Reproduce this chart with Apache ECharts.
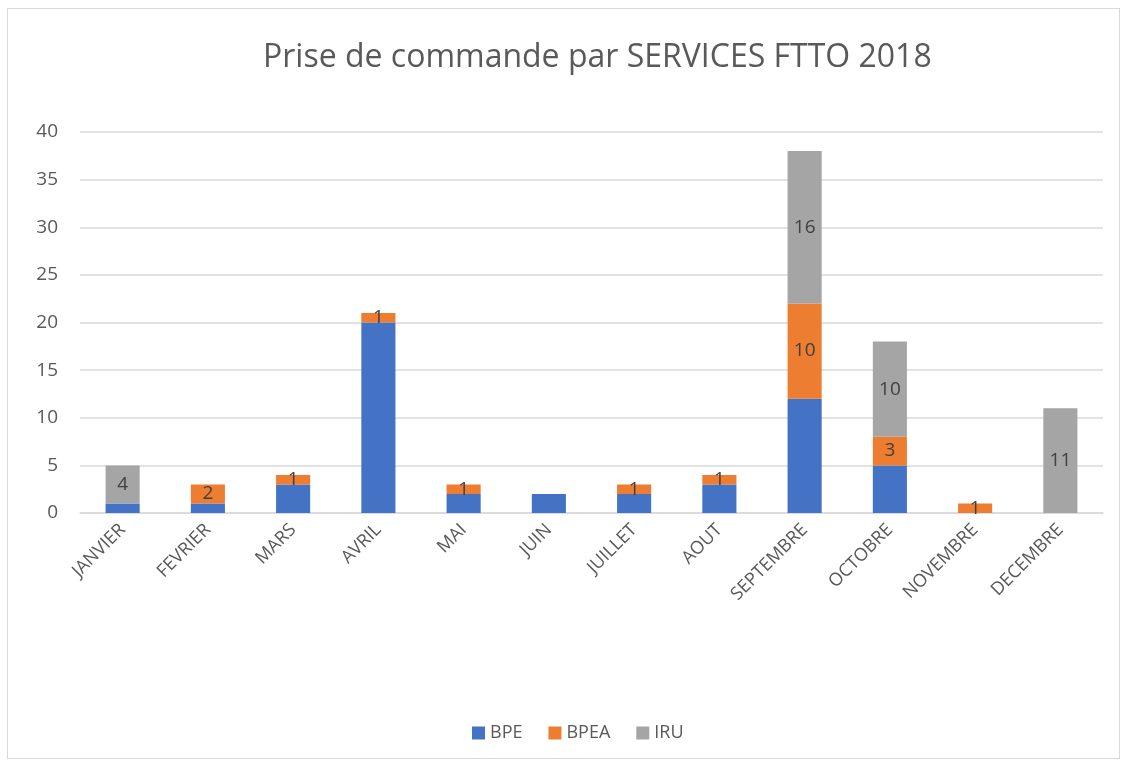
<!DOCTYPE html>
<html>
<head>
<meta charset="utf-8">
<script src="https://cdn.jsdelivr.net/npm/echarts@6/dist/echarts.min.js"></script>
<style>
  html,body{margin:0;padding:0;background:#fff;}
  #frame{position:absolute;left:7px;top:8px;width:1113px;height:751px;border:1px solid #d9d9d9;box-sizing:border-box;}
  #chart{position:absolute;left:0;top:0;width:1128px;height:767px;}
</style>
</head>
<body>
<div id="frame"></div>
<div id="chart"></div>
<script>
// ===== Données =====
const MOIS = ["JANVIER","FEVRIER","MARS","AVRIL","MAI","JUIN","JUILLET","AOUT","SEPTEMBRE","OCTOBRE","NOVEMBRE","DECEMBRE"];
const BPE  = [1, 1, 3, 20, 2, 2, 2, 3, 12, 5, 0, 0];
const BPEA = [0, 2, 1, 1, 1, 0, 1, 1, 10, 3, 1, 0];
const IRU  = [4, 0, 0, 0, 0, 0, 0, 0, 16, 10, 0, 11];

const FONT = '"Open Sans", "Noto Sans", sans-serif';
const chart = echarts.init(document.getElementById('chart'), null, {renderer:'canvas'});

function lbl(show){
  return {
    show: show, position:'inside', color:'#404040', fontSize:19, fontFamily:FONT,
    formatter: p => p.value ? String(p.value) : ''
  };
}

chart.setOption({
  animation:false,
  title:{
    text:'Prise de commande par SERVICES FTTO 2018',
    left:258, top:37,
    textStyle:{color:'#595959', fontSize:32, fontWeight:'normal', fontFamily:FONT}
  },
  grid:{left:80, right:25, top:132, bottom:254},
  legend:{
    bottom:20, left:467, itemWidth:13, itemHeight:13, itemGap:26,
    icon:'rect',
    textStyle:{color:'#595959', fontSize:18, fontFamily:FONT},
    data:['BPE','BPEA','IRU']
  },
  xAxis:{
    type:'category', data:MOIS,
    axisLine:{lineStyle:{color:'#d9d9d9', width:1.5}},
    axisTick:{show:false},
    axisLabel:{rotate:45, color:'#595959', fontSize:18, fontFamily:FONT, margin:14}
  },
  yAxis:{
    type:'value', min:0, max:40, interval:5,
    axisLine:{show:false}, axisTick:{show:false},
    splitLine:{lineStyle:{color:'#d9d9d9', width:1.5}},
    axisLabel:{color:'#595959', fontSize:19, fontFamily:FONT, margin:22}
  },
  series:[
    {name:'BPE', type:'bar', stack:'t', data:BPE, barWidth:'40%', itemStyle:{color:'#4472c4'}, label:lbl(false)},
    {name:'BPEA', type:'bar', stack:'t', data:BPEA, itemStyle:{color:'#ed7d31'}, label:lbl(true)},
    {name:'IRU', type:'bar', stack:'t', data:IRU, itemStyle:{color:'#a5a5a5'}, label:lbl(true)}
  ]
});
</script>
</body>
</html>
